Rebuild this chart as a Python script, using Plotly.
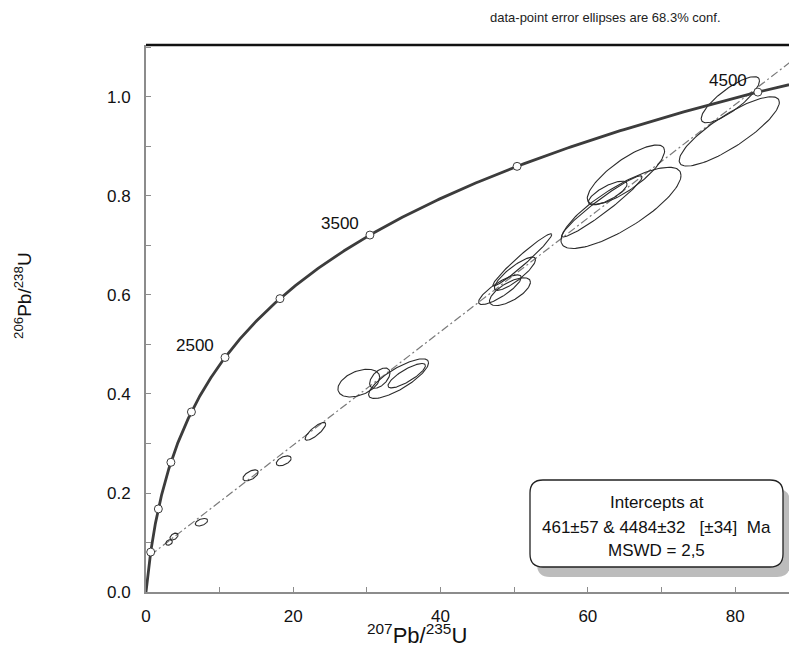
import numpy as np
import plotly.graph_objects as go

# ---------------- data ----------------
# concordia age markers (Ma) and labelled ages
marker_ages = [500, 1000, 1500, 2000, 2500, 3000, 3500, 4000, 4500]
label_ages = [2500, 3500, 4500]

# discordia intercepts (Ma)
lower_intercept = 461
upper_intercept = 4484

# data-point error ellipses: centre 207Pb/235U, centre 206Pb/238U,
# half-extent in x, half-extent in y, error correlation
ell_x = [3.13, 3.80, 7.53, 14.2, 18.7, 23.0, 28.9, 31.75, 34.3, 35.4,
         51.1, 50.1, 48.06, 49.42, 65.17, 64.5, 61.9, 62.7, 79.35, 79.2]
ell_y = [0.100, 0.112, 0.141, 0.2356, 0.265, 0.3245, 0.422, 0.432, 0.431, 0.437,
         0.671, 0.643, 0.6107, 0.6067, 0.843, 0.776, 0.779, 0.806, 0.9945, 0.9305]
ell_ex = [0.45, 0.55, 0.84, 1.04, 1.01, 1.40, 2.84, 1.38, 4.07, 2.54,
          4.00, 2.80, 2.90, 2.78, 5.25, 8.15, 5.46, 2.62, 3.96, 6.80]
ell_ey = [0.0056, 0.0070, 0.0076, 0.0111, 0.0100, 0.0180, 0.0280, 0.0205, 0.0400, 0.0247,
          0.0528, 0.0336, 0.0300, 0.0281, 0.0600, 0.0820, 0.0618, 0.0239, 0.0466, 0.0700]
ell_rho = [0.30, 0.42, 0.44, 0.58, 0.50, 0.82, 0.41, 0.52, 0.80, 0.82,
           0.97, 0.85, 0.83, 0.68, 0.80, 0.80, 0.96, 0.75, 0.82, 0.84]

x_ticks = [0, 20, 40, 60, 80]
y_ticks = [0.0, 0.2, 0.4, 0.6, 0.8, 1.0]

box_lines = ["Intercepts at", "461±57 &amp; 4484±32   [±34]  Ma", "MSWD = 2,5"]
note_text = "data-point error ellipses are 68.3% conf."

# ---------------- helpers ----------------
L238 = 1.55125e-4  # per Ma
L235 = 9.8485e-4   # per Ma


def r206(t):
    return np.exp(L238 * np.asarray(t, dtype=float)) - 1


def r207(t):
    return np.exp(L235 * np.asarray(t, dtype=float)) - 1


X_MAX = 88.4
Y_MAX = 1.105
W, H = 797, 646
# page offset of the figure (browser body margin) is 8 px
ML, MR, MT, MB = 138, 8, 37, 62
PW, PH = W - ML - MR, H - MT - MB
PAGE_L, PAGE_B = 146, 592  # plot-area left / bottom in page pixels

FONT = "Liberation Sans, Arial, sans-serif"
fig = go.Figure()

# discordia
x0, y0 = float(r207(lower_intercept)), float(r206(lower_intercept))
x1, y1 = float(r207(upper_intercept)), float(r206(upper_intercept))
slope = (y1 - y0) / (x1 - x0)
fig.add_trace(go.Scatter(
    x=[x0, X_MAX], y=[y0, y0 + slope * (X_MAX - x0)], mode="lines",
    line=dict(color="#7a7a7a", width=1.2, dash="8px,3px,2px,3px"),
    hoverinfo="skip", showlegend=False))

# ellipses
tt = np.linspace(0, 2 * np.pi, 120)
for cx, cy, ex, ey, rho in zip(ell_x, ell_y, ell_ex, ell_ey, ell_rho):
    xs = cx + ex * np.cos(tt)
    ys = cy + ey * (rho * np.cos(tt) + np.sqrt(1 - rho ** 2) * np.sin(tt))
    fig.add_trace(go.Scatter(x=xs, y=ys, mode="lines",
                             line=dict(color="#2b2b2b", width=1.1),
                             hoverinfo="skip", showlegend=False))

# concordia curve
tc = np.linspace(0, 4700, 600)
fig.add_trace(go.Scatter(x=r207(tc), y=r206(tc), mode="lines",
                         line=dict(color="#3c3c3c", width=2.8),
                         hoverinfo="skip", showlegend=False))
fig.add_trace(go.Scatter(x=r207(marker_ages), y=r206(marker_ages), mode="markers",
                         marker=dict(size=8, color="white",
                                     line=dict(color="#3c3c3c", width=1)),
                         hoverinfo="skip", showlegend=False))

annotations = []
for a in label_ages:
    annotations.append(dict(x=float(r207(a)), y=float(r206(a)), xref="x", yref="y",
                            text=str(a), showarrow=False, xanchor="right", yanchor="middle",
                            xshift=-9, yshift=12,
                            font=dict(family=FONT, size=17, color="#111")))


def px2paper(px, py):
    return (px - PAGE_L) / PW, (PAGE_B - py) / PH


def rounded_path(xa, ya, xb, yb, r):
    def P(px, py):
        u, v = px2paper(px, py)
        return f"{u:.5f},{v:.5f}"
    return (f"M {P(xa + r, ya)} L {P(xb - r, ya)} Q {P(xb, ya)} {P(xb, ya + r)} "
            f"L {P(xb, yb - r)} Q {P(xb, yb)} {P(xb - r, yb)} "
            f"L {P(xa + r, yb)} Q {P(xa, yb)} {P(xa, yb - r)} "
            f"L {P(xa, ya + r)} Q {P(xa, ya)} {P(xa + r, ya)} Z")


shapes = []
# shadow
shapes.append(dict(type="path", xref="paper", yref="paper",
                   path=rounded_path(537, 489, 790, 577, 13),
                   fillcolor="#bcbcbc", line=dict(width=0), layer="above"))
# box
shapes.append(dict(type="path", xref="paper", yref="paper",
                   path=rounded_path(530, 480, 783, 567, 13),
                   fillcolor="white", line=dict(color="#222", width=1.3), layer="above"))
# top frame line
shapes.append(dict(type="line", xref="paper", yref="paper", x0=0, x1=1, y0=1, y1=1,
                   line=dict(color="#111", width=2.5), layer="above"))

for txt, py in zip(box_lines, [502, 527, 550]):
    u, v = px2paper(656.5, py)
    annotations.append(dict(x=u, y=v, xref="paper", yref="paper", text=txt,
                            showarrow=False, xanchor="center", yanchor="middle",
                            font=dict(family=FONT, size=17, color="#111")))

u, v = px2paper(605, 17)
annotations.append(dict(x=u, y=v, xref="paper", yref="paper", text=note_text,
                        showarrow=False, xanchor="center", yanchor="middle",
                        font=dict(family=FONT, size=13, color="#222")))

u, v = px2paper(417, 634)
annotations.append(dict(x=u, y=v, xref="paper", yref="paper",
                        text="<sup>207</sup>Pb/<sup>235</sup>U",
                        showarrow=False, xanchor="center", yanchor="middle",
                        font=dict(family=FONT, size=22, color="#111")))
u, v = px2paper(23, 296)
annotations.append(dict(x=u, y=v, xref="paper", yref="paper",
                        text="<sup>206</sup>Pb/<sup>238</sup>U", textangle=-90,
                        showarrow=False, xanchor="center", yanchor="middle",
                        font=dict(family=FONT, size=19, color="#111")))

fig.update_layout(
    width=W, height=H, margin=dict(l=ML, r=MR, t=MT, b=MB),
    plot_bgcolor="white", paper_bgcolor="white",
    shapes=shapes, annotations=annotations, showlegend=False,
    xaxis=dict(range=[0, X_MAX], tickvals=x_ticks, ticktext=[str(v) for v in x_ticks],
               ticks="inside", ticklen=5, tickcolor="#8c8c8c", tickwidth=1,
               showline=True, linecolor="#8c8c8c", linewidth=2, showgrid=False,
               zeroline=False, ticklabelstandoff=8,
               minor=dict(dtick=10, ticks="inside", ticklen=5, tickcolor="#8c8c8c"),
               tickfont=dict(family=FONT, size=17, color="#111")),
    yaxis=dict(range=[0, Y_MAX], tickvals=y_ticks, ticktext=[f"{v:.1f}" for v in y_ticks],
               ticks="inside", ticklen=5, tickcolor="#8c8c8c", tickwidth=1,
               showline=True, linecolor="#8c8c8c", linewidth=2, showgrid=False,
               zeroline=False, ticklabelstandoff=10,
               minor=dict(dtick=0.1, ticks="inside", ticklen=5, tickcolor="#8c8c8c"),
               tickfont=dict(family=FONT, size=17, color="#111")),
)

fig.write_html("out.html")
